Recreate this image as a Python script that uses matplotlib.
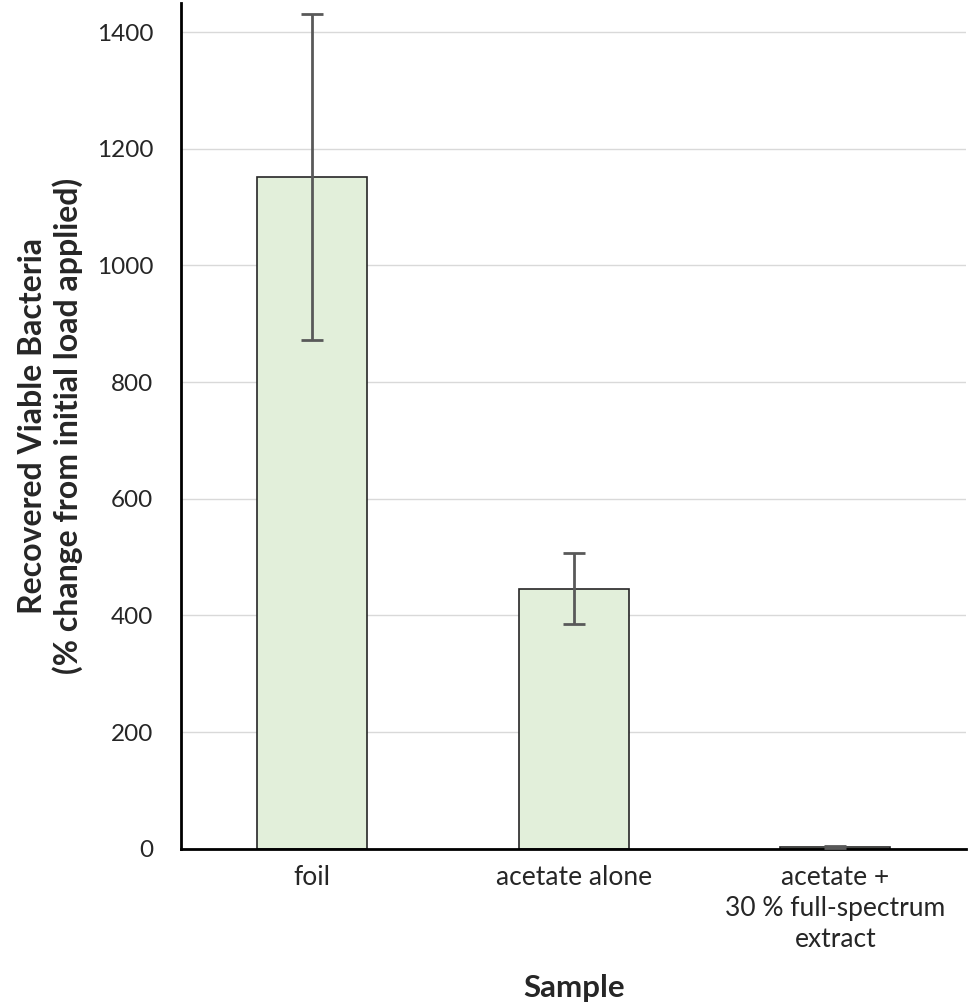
import matplotlib.pyplot as plt
import numpy as np

plt.rcParams['font.family'] = ['Lato', 'DejaVu Sans']

muestras = ["foil", "acetate alone", "acetate +\n30 % full-spectrum\nextract"]
valores = [1152, 446, 3]
errores = [279, 61, 1]
yticks = [0, 200, 400, 600, 800, 1000, 1200, 1400]

fig = plt.figure(figsize=(9.69, 10.08), dpi=100)
ax = fig.add_axes([0.187, 0.158, 0.81, 0.839])

x = np.arange(len(muestras))
ax.bar(x, valores, width=0.42, color="#E2EFDA", edgecolor="#262626", linewidth=1.2, zorder=2)
ax.errorbar(x, valores, yerr=errores, fmt="none", ecolor="#595959", elinewidth=2,
            capsize=8, capthick=2, zorder=3)

ax.set_xlim(-0.5, 2.5)
ax.set_ylim(0, 1450)
ax.set_yticks(yticks)
ax.set_xticks(x)
ax.set_xticklabels(muestras, fontsize=19, linespacing=1.3, color="#262626")
ax.tick_params(axis="y", labelsize=17.5, length=0, pad=20, labelcolor="#262626")
ax.tick_params(axis="x", length=0, pad=12)
ax.yaxis.grid(True, color="#D9D9D9", linewidth=1, zorder=0)
ax.set_axisbelow(True)

for s in ["top", "right"]:
    ax.spines[s].set_visible(False)
ax.spines["left"].set_linewidth(2)
ax.spines["bottom"].set_linewidth(2)

ax.set_ylabel("Recovered Viable Bacteria\n(% change from initial load applied)",
              fontsize=23, fontweight="bold", linespacing=1.2, color="#262626")
ax.yaxis.set_label_coords(-0.125, 0.5)
fig.text(0.5 * (0.187 + 0.997), 0.02, "Sample", fontsize=22.5, fontweight="bold",
         ha="center", va="center", color="#262626")

plt.savefig("out.png")
